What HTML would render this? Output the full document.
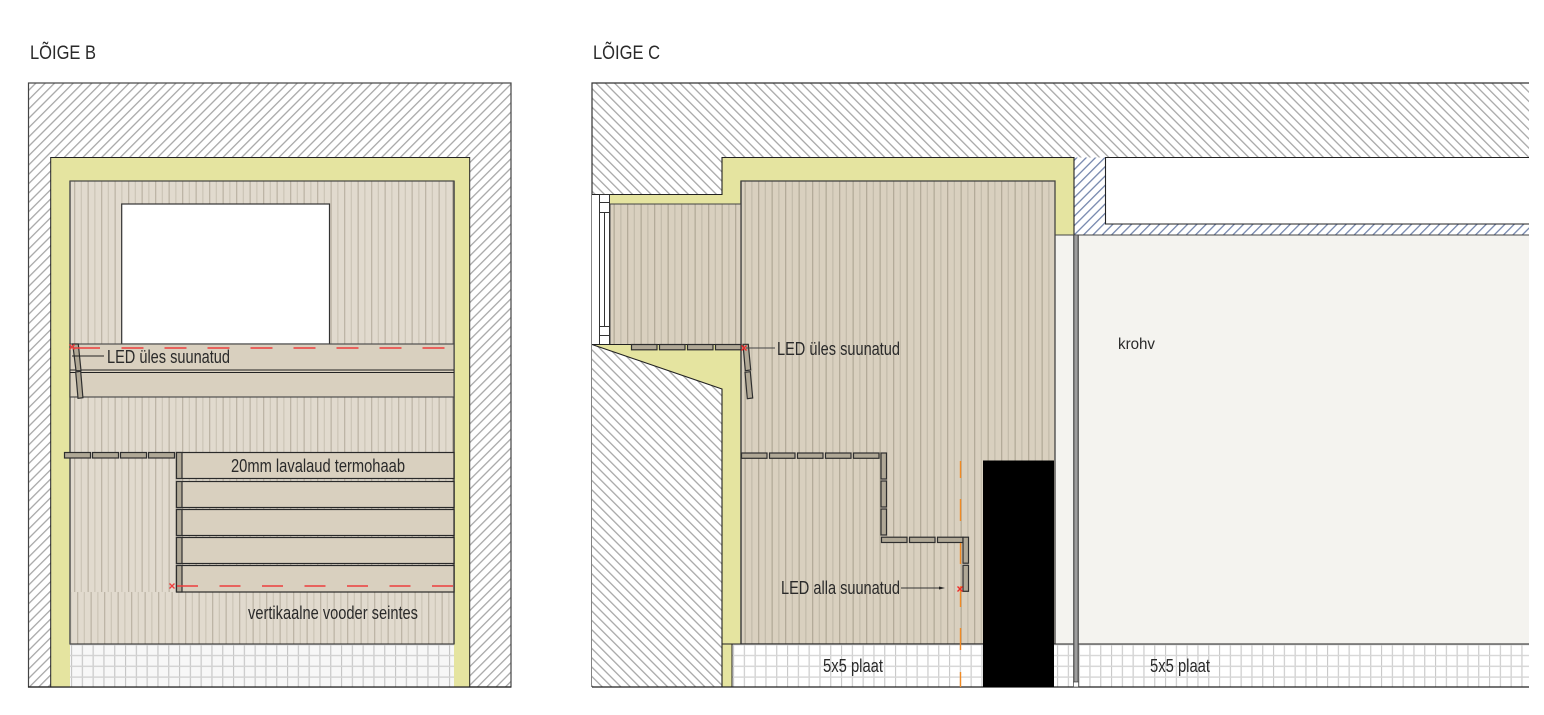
<!DOCTYPE html>
<html><head><meta charset="utf-8"><style>
html,body{margin:0;padding:0;background:#fff;width:1544px;height:715px;overflow:hidden}
svg{display:block}
text{font-family:"Liberation Sans Narrow","Liberation Sans",sans-serif;fill:#2a2a2a;font-size:18px}
</style></head><body>
<svg width="1544" height="715" viewBox="0 0 1544 715" xmlns="http://www.w3.org/2000/svg">
<defs>
<pattern id="hl" width="6.6" height="6.6" patternUnits="userSpaceOnUse" patternTransform="rotate(45 28 83)"><rect width="6.6" height="6.6" fill="#fff"/><rect x="0" width="1.3" height="6.6" fill="#a8a8a8"/></pattern>
<pattern id="hr" width="6.6" height="6.6" patternUnits="userSpaceOnUse" patternTransform="rotate(-45 592 83)"><rect width="6.6" height="6.6" fill="#fff"/><rect x="0" width="1.3" height="6.6" fill="#a8a8a8"/></pattern>
<pattern id="hb" width="6.6" height="6.6" patternUnits="userSpaceOnUse" patternTransform="rotate(45 1074 157)"><rect width="6.6" height="6.6" fill="#fff"/><rect x="0" width="1.3" height="6.6" fill="#7587ad"/></pattern>
<pattern id="s1" x="70" y="0" width="13.5" height="10" patternUnits="userSpaceOnUse"><rect width="13.5" height="10" fill="#e1dace"/><rect x="4" width="1.3" height="10" fill="#bdb5a6"/><rect x="10.7" width="1.3" height="10" fill="#cdc6b8"/></pattern>
<pattern id="s1b" x="73" y="0" width="13.5" height="10" patternUnits="userSpaceOnUse"><rect width="13.5" height="10" fill="#e1dace"/><rect x="4" width="1.3" height="10" fill="#bdb5a6"/><rect x="10.7" width="1.3" height="10" fill="#cdc6b8"/></pattern>
<pattern id="s2" x="741" y="0" width="13.5" height="10" patternUnits="userSpaceOnUse"><rect width="13.5" height="10" fill="#d9d0bf"/><rect x="3.5" width="1.3" height="10" fill="#b3ab99"/><rect x="10.2" width="1.3" height="10" fill="#c4bcab"/></pattern>
<pattern id="s3" x="610" y="0" width="13.5" height="10" patternUnits="userSpaceOnUse"><rect width="13.5" height="10" fill="#d9d0bf"/><rect x="3.5" width="1.3" height="10" fill="#b3ab99"/><rect x="10.2" width="1.3" height="10" fill="#c4bcab"/></pattern>
<pattern id="g1" x="70" y="644" width="10.8" height="10.8" patternUnits="userSpaceOnUse"><rect width="10.8" height="10.8" fill="#f7f7f7"/><rect x="1" width="1.1" height="10.8" fill="#c4c4c4"/><rect y="0" width="10.8" height="1.4" fill="#d2d2d2"/></pattern>
<pattern id="g2" x="732" y="644" width="10.8" height="10.8" patternUnits="userSpaceOnUse"><rect width="10.8" height="10.8" fill="#fff"/><rect x="1" width="1.1" height="10.8" fill="#c8c8c8"/><rect y="0" width="10.8" height="1.4" fill="#d6d6d6"/></pattern>
</defs>

<text x="30" y="59" textLength="66" lengthAdjust="spacingAndGlyphs" style="font-size:19.5px">LÕIGE B</text>
<text x="593" y="59" textLength="67" lengthAdjust="spacingAndGlyphs" style="font-size:19.5px">LÕIGE C</text>

<!-- LEFT SECTION -->
<rect x="28.5" y="83" width="482.5" height="604" fill="url(#hl)" stroke="#444" stroke-width="1.2"/>
<rect x="50.7" y="157.5" width="419" height="529.5" fill="#e5e4a0" stroke="#222" stroke-width="1"/>
<rect x="70" y="181" width="384" height="463" fill="url(#s1)" stroke="#444" stroke-width="1.2"/>
<rect x="70" y="592" width="384" height="52" fill="url(#s1b)"/>
<rect x="70" y="644" width="384" height="43" fill="url(#g1)"/>
<line x1="70" y1="644" x2="454" y2="644" stroke="#222" stroke-width="1.1"/>
<line x1="28" y1="687" x2="511" y2="687" stroke="#222" stroke-width="1.2"/>
<line x1="70" y1="181" x2="70" y2="644" stroke="#555" stroke-width="1.4"/>
<line x1="454" y1="181" x2="454" y2="644" stroke="#444" stroke-width="1.4"/>
<rect x="121.7" y="204" width="207.8" height="140" fill="#fff" stroke="#333" stroke-width="1.2"/>
<rect x="70" y="344" width="384" height="53" fill="#d9d0bf" stroke="#444" stroke-width="1.1"/>
<line x1="70" y1="370" x2="454" y2="370" stroke="#222" stroke-width="1"/>
<line x1="70" y1="372.5" x2="454" y2="372.5" stroke="#222" stroke-width="1"/>
<g fill="#d9d0bf" stroke="#2a2a2a" stroke-width="1.2">
<rect x="176.5" y="452.5" width="277.5" height="26"/>
<rect x="176.5" y="481.5" width="277.5" height="26"/>
<rect x="176.5" y="509.5" width="277.5" height="26"/>
<rect x="176.5" y="537.5" width="277.5" height="26"/>
<rect x="176.5" y="565.5" width="277.5" height="26.5"/>
</g>
<g fill="#b0a896" stroke="#2e2e2e" stroke-width="1.2">
<rect x="176.5" y="452.5" width="5.5" height="26"/>
<rect x="176.5" y="481.5" width="5.5" height="26"/>
<rect x="176.5" y="509.5" width="5.5" height="26"/>
<rect x="176.5" y="537.5" width="5.5" height="26"/>
<rect x="176.5" y="565.5" width="5.5" height="26.5"/>
<rect x="64.5" y="452.5" width="26" height="5.5"/>
<rect x="92.5" y="452.5" width="26" height="5.5"/>
<rect x="120.5" y="452.5" width="26" height="5.5"/>
<rect x="148.5" y="452.5" width="26" height="5.5"/>
<polygon points="72.7,344 78.3,344 81,370.7 76,370.7"/>
<polygon points="75.7,372 80.7,371.3 82.9,397.7 78,398.3"/>
</g>
<g stroke="#ee3d3d" stroke-width="1.4" fill="none">
<line x1="73" y1="348" x2="454" y2="348" stroke-dasharray="27 21.5 22 21 22 21 22 21 22 21 22 21 22 21 22 21 22 21 22 21"/>
<line x1="177" y1="586" x2="454" y2="586" stroke-dasharray="21 21.5"/>
<path d="M69.5,344.5l5,5m0-5l-5,5M169.5,583.5l5,5m0-5l-5,5"/>
</g>
<line x1="72" y1="356" x2="104" y2="356" stroke="#222" stroke-width="1"/>
<text x="107" y="363" textLength="123" lengthAdjust="spacingAndGlyphs">LED üles suunatud</text>
<text x="231" y="472" textLength="174" lengthAdjust="spacingAndGlyphs">20mm lavalaud termohaab</text>
<text x="248" y="619" textLength="170" lengthAdjust="spacingAndGlyphs">vertikaalne vooder seintes</text>

<!-- RIGHT SECTION -->
<polygon points="592,83 1529,83 1529,157.5 722,157.5 722,194.5 592,194.5" fill="url(#hr)"/>
<polyline points="1529,83 592,83 592,687" fill="none" stroke="#333" stroke-width="1.2"/>
<polygon points="592,344.5 722,389 722,687 592,687" fill="url(#hr)"/>
<!-- blue hatch -->
<polygon points="1074,157.5 1105,157.5 1105,224 1529,224 1529,235 1074,235" fill="url(#hb)"/>
<rect x="1105.5" y="157.5" width="424" height="66.5" fill="#fff"/>
<polyline points="1529,157.5 1105.5,157.5 1105.5,224 1529,224" fill="none" stroke="#222" stroke-width="1.1"/>
<!-- insulation -->
<polygon points="722,157.5 1074,157.5 1074,235 1055,235 1055,181 741,181 741,644 732,644 732,687 722,687 722,389 592,344.5 741,344.5 741,204 610,204 610,194.5 722,194.5" fill="#e5e4a0"/>
<polyline points="592,194.5 722,194.5 722,157.5 1074,157.5 1074,235" fill="none" stroke="#222" stroke-width="1.1"/>
<polyline points="592,344.5 722,389 722,687" fill="none" stroke="#222" stroke-width="1.1"/>
<!-- plaster -->
<rect x="1055" y="235" width="474" height="409" fill="#f4f3ef"/>
<line x1="1055" y1="235" x2="1529" y2="235" stroke="#444" stroke-width="1.1"/>
<!-- panels -->
<rect x="741" y="181" width="314" height="463" fill="url(#s2)" stroke="#444" stroke-width="1.3"/>
<rect x="610" y="204" width="131" height="140.5" fill="url(#s3)" stroke="#444" stroke-width="1"/>
<line x1="741" y1="181" x2="741" y2="644" stroke="#444" stroke-width="1.3"/>
<!-- window -->
<rect x="592" y="195" width="18" height="149.5" fill="#fff"/>
<g fill="#fff" stroke="#333" stroke-width="1">
<rect x="599.5" y="194.5" width="10" height="8"/>
<rect x="599.5" y="202.5" width="10" height="10"/>
<rect x="599.5" y="326.5" width="10" height="9"/>
<rect x="599.5" y="335.5" width="10" height="9"/>
<line x1="604.5" y1="212.5" x2="604.5" y2="326.5"/>
<line x1="599.5" y1="212.5" x2="599.5" y2="326.5"/>
<line x1="609.5" y1="212.5" x2="609.5" y2="326.5"/>
</g>
<line x1="592" y1="344.5" x2="741" y2="344.5" stroke="#222" stroke-width="1"/>
<!-- floor -->
<rect x="732" y="644" width="797" height="43" fill="url(#g2)"/>
<line x1="722" y1="644" x2="1529" y2="644" stroke="#222" stroke-width="1"/>
<line x1="592" y1="687" x2="1529" y2="687" stroke="#222" stroke-width="1.2"/>
<line x1="732" y1="644" x2="732" y2="687" stroke="#222" stroke-width="1"/>
<line x1="722" y1="644" x2="722" y2="687" stroke="#222" stroke-width="1"/>
<!-- door -->
<rect x="983" y="460.5" width="71" height="226.5" fill="#000"/>
<!-- thin column -->
<rect x="1073.5" y="235" width="5" height="447" fill="#7c7c7c"/>
<rect x="1075.2" y="235" width="1.6" height="447" fill="#a6a6a6"/>
<rect x="1073.5" y="235" width="5" height="447" fill="none" stroke="#444" stroke-width=".7"/>
<rect x="1073.5" y="682" width="5" height="5" fill="#fff" stroke="#444" stroke-width=".7"/>
<!-- LED bars -->
<g fill="#b0a896" stroke="#2e2e2e" stroke-width="1.2">
<rect x="631.5" y="344.5" width="25.5" height="5.3"/>
<rect x="659.5" y="344.5" width="25.5" height="5.3"/>
<rect x="687.5" y="344.5" width="25.5" height="5.3"/>
<rect x="715.5" y="344.5" width="25.5" height="5.3"/>
<polygon points="743,344.3 748.3,344.3 750.7,370 745.3,370.7"/>
<polygon points="745,372.3 750.3,371.7 752.7,398 747.3,398.7"/>
<rect x="741.5" y="453" width="25.5" height="5.3"/>
<rect x="769.5" y="453" width="25.5" height="5.3"/>
<rect x="797.5" y="453" width="25.5" height="5.3"/>
<rect x="825.5" y="453" width="25.5" height="5.3"/>
<rect x="853.5" y="453" width="25.5" height="5.3"/>
<rect x="881" y="453" width="5.5" height="26"/>
<rect x="881" y="481" width="5.5" height="26"/>
<rect x="881" y="509" width="5.5" height="26"/>
<rect x="881.5" y="537.2" width="25.5" height="5.3"/>
<rect x="909.5" y="537.2" width="25.5" height="5.3"/>
<rect x="937.5" y="537.2" width="25.5" height="5.3"/>
<rect x="963" y="537.2" width="5.5" height="26"/>
<rect x="963" y="565.3" width="5.5" height="26"/>
</g>
<!-- orange axis -->
<g stroke="#f08a24" stroke-width="1.4">
<line x1="960.5" y1="461" x2="960.5" y2="478"/>
<line x1="960.5" y1="499" x2="960.5" y2="521"/>
<line x1="960.5" y1="543" x2="960.5" y2="564"/>
<line x1="960.5" y1="586" x2="960.5" y2="607"/>
<line x1="960.5" y1="628" x2="960.5" y2="650"/>
<line x1="960.5" y1="672" x2="960.5" y2="687"/>
</g>
<g stroke="#ee2b2b" stroke-width="1.4" fill="none">
<path d="M741.5,345.5l5,5m0-5l-5,5M957.5,586.5l5,5m0-5l-5,5"/>
</g>
<line x1="746" y1="348" x2="775" y2="348" stroke="#444" stroke-width="1.1"/>
<line x1="901" y1="588" x2="941" y2="588" stroke="#333" stroke-width="1"/>
<polygon points="939,586.5 945,588 939,589.5" fill="#222"/>
<text x="777" y="355" textLength="123" lengthAdjust="spacingAndGlyphs">LED üles suunatud</text>
<text x="781" y="594" textLength="119" lengthAdjust="spacingAndGlyphs">LED alla suunatud</text>
<text x="1118" y="349" textLength="37" lengthAdjust="spacingAndGlyphs" style="font-size:16px">krohv</text>
<text x="823" y="672" textLength="60" lengthAdjust="spacingAndGlyphs">5x5 plaat</text>
<text x="1150" y="672" textLength="60" lengthAdjust="spacingAndGlyphs">5x5 plaat</text>
</svg>
</body></html>
